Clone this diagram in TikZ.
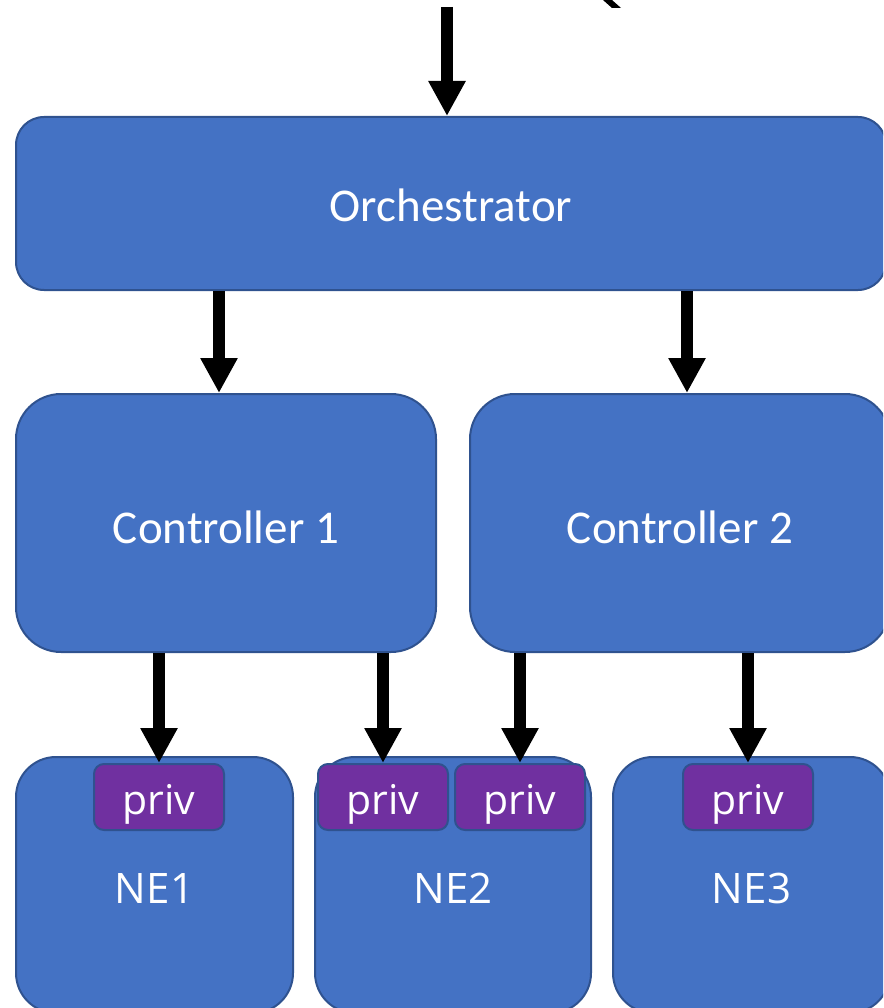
\documentclass[tikz,border=0pt]{standalone}
\usepackage{fontspec}
\setmainfont{Carlito}
\newfontfamily\nefont{Open Sans}
\usetikzlibrary{arrows.meta}
\definecolor{boxblue}{HTML}{4472C4}
\definecolor{boxedge}{HTML}{2F528F}
\definecolor{privpurple}{HTML}{7030A0}
\begin{document}
\begin{tikzpicture}[x=1pt,y=-1pt,
  box/.style={draw=boxedge, fill=boxblue, line width=2pt, text=white,
    inner sep=0pt, anchor=north west, text depth=0pt},
  bigbox/.style={box, rounded corners=28pt, text height=37pt,
    font=\fontsize{47}{52}\selectfont},
  ctrlbox/.style={box, rounded corners=45pt, minimum width=420pt,
    minimum height=258pt, text height=40pt,
    font=\fontsize{47}{52}\selectfont},
  nebox/.style={box, rounded corners=40pt, minimum height=256pt,
    text height=36pt, font=\nefont\fontsize{42}{48}\selectfont},
  privbox/.style={box, fill=privpurple, rounded corners=10pt,
    minimum width=130pt, minimum height=66pt, text height=34pt,
    font=\nefont\fontsize{41}{46}\selectfont},
  arr/.style={line width=12pt, -{Triangle[width=35pt,length=35pt]}}]
\useasboundingbox (0,0) rectangle (883,1008);
\clip (0,0) rectangle (883,1008);

% top level
\node[bigbox, minimum width=870pt, minimum height=173pt] (orch) at (15,116) {Orchestrator};

% controllers
\node[ctrlbox] (c1) at (15,393) {Controller 1};
\node[ctrlbox] (c2) at (469,393) {Controller 2};

% network elements
\node[nebox, minimum width=277pt] (ne1) at (15,756) {NE1};
\node[nebox, minimum width=276pt] (ne2) at (314,756) {NE2};
\node[nebox, minimum width=277pt] (ne3) at (612,756) {NE3};

% private slices
\node[privbox] (p1) at (93,763) {priv};
\node[privbox] (p2a) at (317,763) {priv};
\node[privbox] (p2b) at (454,763) {priv};
\node[privbox] (p3) at (682,763) {priv};

% incoming request
\coordinate (src) at (447,7);
\draw[arr] (src) -- (src |- orch.north);

% orchestrator to controllers
\draw[arr] ([xshift=-7pt]c1.north |- orch.south) -- ([xshift=-7pt]c1.north);
\draw[arr] ([xshift=7pt]c2.north |- orch.south) -- ([xshift=7pt]c2.north);

% controllers to slices
\draw[arr] (p1.north |- c1.south) -- (p1.north);
\draw[arr] (p2a.north |- c1.south) -- (p2a.north);
\draw[arr] (p2b.north |- c2.south) -- (p2b.north);
\draw[arr] (p3.north |- c2.south) -- (p3.north);

% stroke entering from the top edge
\fill (603,0) -- (612,0) -- (621,8) -- (612,8) -- cycle;
\end{tikzpicture}
\end{document}
